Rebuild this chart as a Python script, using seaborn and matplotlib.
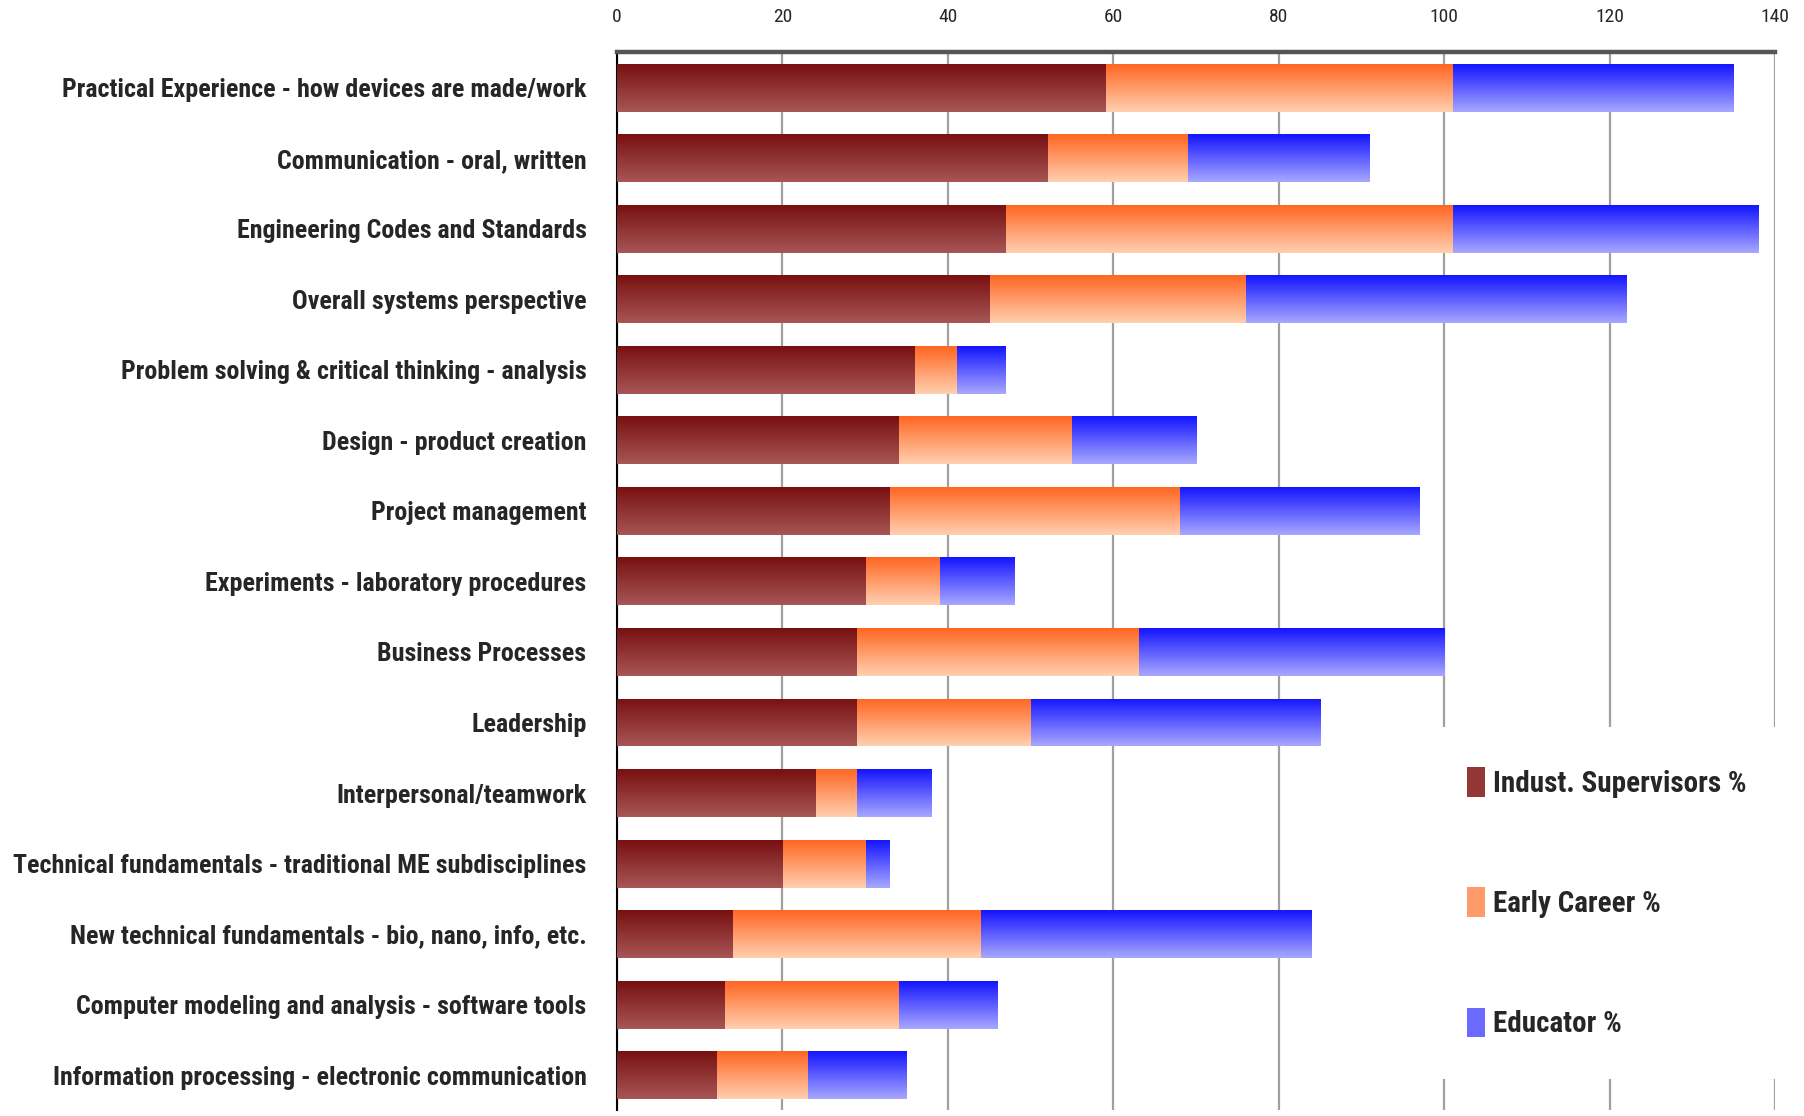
import numpy as np
import pandas as pd
import matplotlib
matplotlib.use("Agg")
import matplotlib.pyplot as plt
import seaborn as sns
from matplotlib.colors import to_rgb
from matplotlib.patches import Patch
from matplotlib import font_manager as fm

categories = [
    "Practical Experience - how devices are made/work",
    "Communication - oral, written",
    "Engineering Codes and Standards",
    "Overall systems perspective",
    "Problem solving & critical thinking - analysis",
    "Design - product creation",
    "Project management",
    "Experiments - laboratory procedures",
    "Business Processes",
    "Leadership",
    "Interpersonal/teamwork",
    "Technical fundamentals - traditional ME subdisciplines",
    "New technical fundamentals - bio, nano, info, etc.",
    "Computer modeling and analysis - software tools",
    "Information processing - electronic communication",
]
indust = [59, 52, 47, 45, 36, 34, 33, 30, 29, 29, 24, 20, 14, 13, 12]
early = [42, 17, 54, 31, 5, 21, 35, 9, 34, 21, 5, 10, 30, 21, 11]
educator = [34, 22, 37, 46, 6, 15, 29, 9, 37, 35, 9, 3, 40, 12, 12]
series_names = ["Indust. Supervisors %", "Early Career %", "Educator %"]
x_ticks = [0, 20, 40, 60, 80, 100, 120, 140]

sns.set_style("white")

# pick a narrow font if one is installed
ttf = fm.fontManager.ttflist
names = {f.name for f in ttf}
family, stretch = None, "normal"
for cand in ["Liberation Sans Narrow", "Roboto Condensed", "Open Sans Condensed",
             "Noto Sans Condensed", "DejaVu Sans Condensed"]:
    if cand in names:
        family = cand
        break
if family is None:
    cond = [f for f in ttf if ("Condensed" in f.name or "Narrow" in f.name)]
    if cond:
        family = cond[0].name
if family is None:
    dj = [f for f in ttf if f.name == "DejaVu Sans" and str(f.stretch) in ("condensed", "semi-condensed")]
    if dj:
        family, stretch = "DejaVu Sans", "condensed"
if family is None:
    family = "Roboto" if "Roboto" in names else "DejaVu Sans"
plt.rcParams["font.family"] = [family, "DejaVu Sans"]
plt.rcParams["font.stretch"] = stretch

df = pd.DataFrame({"cat": categories, "ind": indust, "early": early, "edu": educator})
df["c1"] = df["ind"]
df["c2"] = df["ind"] + df["early"]
df["c3"] = df["c2"] + df["edu"]

grad = {
    "edu": ("#1414ff", "#a8a8ff"),
    "early": ("#ff6622", "#ffd0b0"),
    "ind": ("#781010", "#a85656"),
}
flat = {"edu": "#6a6aff", "early": "#ff9a6a", "ind": "#933636"}

fig = plt.figure(figsize=(18.04, 11.16), dpi=100)
ax = fig.add_axes([0.342, 0.005, 0.642, 0.948])

bar_h = 0.68
layers = [("c3", "edu"), ("c2", "early"), ("c1", "ind")]
for i, (col, key) in enumerate(layers):
    n_before = len(ax.patches)
    sns.barplot(data=df, x=col, y="cat", orient="h", color=flat[key],
                width=bar_h, ax=ax, saturation=1, linewidth=0, zorder=2)
    new = ax.patches[n_before:]
    top, bot = (np.array(to_rgb(c)) for c in grad[key])
    t = np.linspace(0, 1, 256)[:, None]
    img = (top[None, :] * (1 - t) + bot[None, :] * t)[:, None, :]
    for p in new:
        x0, y0 = p.get_x(), p.get_y()
        w, h = p.get_width(), p.get_height()
        im = ax.imshow(img, extent=(x0, x0 + w, y0 + h, y0), origin="upper",
                       aspect="auto", interpolation="bilinear", zorder=2.5 + i * 0.1)
        im.set_clip_path(p)

ax.set_xlim(0, 140)
ax.set_ylim(14.5, -0.5)
ax.set_xlabel("")
ax.set_ylabel("")
ax.set_xticks(x_ticks)
ax.xaxis.tick_top()
ax.grid(axis="x", color="#a0a0a0", linewidth=1.6, zorder=0)
ax.grid(axis="y", visible=False)
ax.set_axisbelow(True)

for s in ["right", "bottom"]:
    ax.spines[s].set_visible(False)
ax.spines["top"].set_color("#555555")
ax.spines["top"].set_linewidth(3.2)
ax.spines["left"].set_color("black")
ax.spines["left"].set_linewidth(1.5)

ax.set_yticks(np.arange(-0.5, 15, 1), minor=True)
ax.tick_params(axis="y", which="minor", length=6, width=1.5, direction="out", color="black")
ax.tick_params(axis="x", which="major", length=0, pad=19, labelsize=14)

# fit label size so that the longest label fits the left margin
fig.canvas.draw()
renderer = fig.canvas.get_renderer()
size = 21.0
while size > 8:
    ax.tick_params(axis="y", which="major", length=0, pad=22, labelsize=size)
    for lbl in ax.get_yticklabels():
        lbl.set_fontweight("bold")
    fig.canvas.draw()
    widest = max(l.get_window_extent(renderer).width for l in ax.get_yticklabels())
    if widest <= 578:
        break
    size -= 0.25

handles = [Patch(facecolor=flat[k], edgecolor="none") for k in ["ind", "early", "edu"]]
leg_size = 21.0
while True:
    leg = fig.legend(handles, series_names, loc="upper left",
                     bbox_to_anchor=(0.7825, 0.362), bbox_transform=fig.transFigure,
                     frameon=True, facecolor="white", edgecolor="none", framealpha=1,
                     fancybox=False, handlelength=0.6, handleheight=1.2, handletextpad=0.3,
                     labelspacing=3.06, borderpad=1.4,
                     prop={"size": leg_size, "weight": "bold"})
    leg.set_zorder(5)
    fig.canvas.draw()
    t0 = leg.get_texts()[0].get_window_extent(renderer)
    if t0.x1 <= 1790 or leg_size <= 10:
        break
    leg.remove()
    leg_size -= 0.5

fig.savefig("out.png", dpi=100, facecolor="white")
